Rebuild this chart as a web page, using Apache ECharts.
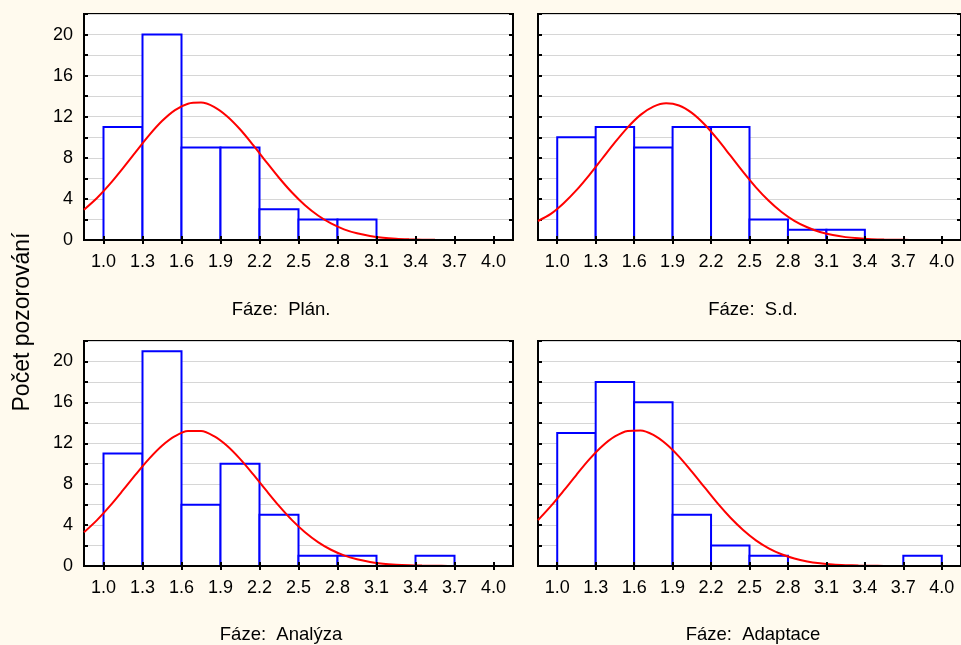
<!DOCTYPE html>
<html>
<head>
<meta charset="utf-8">
<script src="https://cdn.jsdelivr.net/npm/echarts@6/dist/echarts.min.js"></script>
<style>
html, body { margin: 0; padding: 0; background: #fffaee; }
#chart { width: 961px; height: 645px; }
</style>
</head>
<body>
<div id="chart"></div>
<script>
// histogram bins (class limits) and tick marks on x
var binEdges = [1.0, 1.3, 1.6, 1.9, 2.2, 2.5, 2.8, 3.1, 3.4, 3.7, 4.0];
var xTicks = [1.0, 1.3, 1.6, 1.9, 2.2, 2.5, 2.8, 3.1, 3.4, 3.7, 4.0];
var panelTitles = ["Fáze:  Plán.", "Fáze:  S.d.", "Fáze:  Analýza", "Fáze:  Adaptace"];
var yTitle = "Počet pozorování";

// observed counts per bin
var countsPlan = [11, 20, 9, 9, 3, 2, 2, 0, 0, 0];
var countsSd = [10, 11, 9, 11, 11, 2, 1, 1, 0, 0];
var countsAnalyza = [11, 21, 6, 10, 5, 1, 1, 0, 1, 0];
var countsAdaptace = [13, 18, 16, 5, 2, 1, 0, 0, 0, 1];

// expected normal curve
var curveX = [0.85, 0.95, 1.05, 1.15, 1.25, 1.35, 1.45, 1.55, 1.65, 1.75, 1.85, 1.95, 2.05, 2.15, 2.25, 2.35, 2.45,
    2.55, 2.65, 2.75, 2.85, 2.95, 3.05, 3.15, 3.25, 3.35, 3.45, 3.55, 3.65, 3.75, 3.85, 3.95, 4.05, 4.15];
var curvePlan = [2.95, 4.09, 5.46, 7.0, 8.61, 10.19, 11.58, 12.65, 13.27, 13.38, 12.96, 12.05, 10.78, 9.26, 7.64, 6.06, 4.62,
    3.38, 2.38, 1.61, 1.04, 0.65, 0.39, 0.22, 0.12, 0.066, 0.034, 0.016, 0.007, 0, 0, 0, 0, 0];
var curveSd = [1.85, 2.54, 3.58, 4.85, 6.32, 7.91, 9.5, 10.97, 12.18, 12.98, 13.3, 13.09, 12.37, 11.24, 9.81, 8.23, 6.63,
    5.13, 3.82, 2.73, 1.87, 1.24, 0.78, 0.48, 0.28, 0.16, 0.085, 0.04, 0.02, 0.01, 0, 0, 0, 0];
var curveAnalyza = [3.3, 4.49, 5.88, 7.41, 8.98, 10.47, 11.75, 12.69, 13.19, 13.19, 12.69, 11.75, 10.47, 8.98, 7.41, 5.88, 4.49,
    3.3, 2.34, 1.59, 1.04, 0.66, 0.4, 0.23, 0.13, 0.07, 0.037, 0.018, 0.008, 0, 0, 0, 0, 0];
var curveAdaptace = [4.48, 5.85, 7.36, 8.92, 10.42, 11.71, 12.67, 13.21, 13.26, 12.82, 11.93, 10.7, 9.23, 7.68, 6.14, 4.74, 3.52,
    2.51, 1.73, 1.15, 0.73, 0.45, 0.27, 0.15, 0.084, 0.044, 0.022, 0.01, 0, 0, 0, 0, 0, 0];

var allCounts = [countsPlan, countsSd, countsAnalyza, countsAdaptace];
var allCurves = [curvePlan, curveSd, curveAnalyza, curveAdaptace];

var FONT = "Liberation Sans, Arial, sans-serif";
var panels = [
    { left: 84, top: 14, width: 429, height: 226, ylab: true, tx: 281, ty: 310 },
    { left: 538, top: 14, width: 430, height: 226, ylab: false, tx: 753, ty: 310 },
    { left: 84, top: 341, width: 429, height: 225, ylab: true, tx: 281, ty: 635 },
    { left: 538, top: 341, width: 430, height: 225, ylab: false, tx: 753, ty: 635 }
];

var grids = [], xAxes = [], yAxes = [], series = [], graphics = [];

panels.forEach(function (p, i) {
    grids.push({
        left: p.left, top: p.top, width: p.width, height: p.height,
        show: true, backgroundColor: "#ffffff", borderColor: "#000", borderWidth: 2
    });
    // bottom x axis with labels
    xAxes.push({
        type: "value", gridIndex: i, position: "bottom", min: 0.85, max: 4.15, z: 5,
        axisLine: { show: true, onZero: false, lineStyle: { color: "#000", width: 2 } },
        axisTick: { show: true, inside: true, length: 4, customValues: xTicks, lineStyle: { color: "#000", width: 2 } },
        axisLabel: { customValues: xTicks, margin: 13, color: "#000", fontSize: 18, fontFamily: FONT,
            formatter: function (v) { return v.toFixed(1); } },
        splitLine: { show: false }
    });
    // top x axis, ticks only
    xAxes.push({
        type: "value", gridIndex: i, position: "top", min: 0.85, max: 4.15, z: 5,
        axisLine: { show: false },
        axisTick: { show: true, inside: true, length: 4, customValues: xTicks, lineStyle: { color: "#000", width: 2 } },
        axisLabel: { show: false },
        splitLine: { show: false }
    });
    yAxes.push({
        type: "value", gridIndex: i, position: "left", min: 0, max: 22, interval: 2,
        axisLine: { show: false },
        axisTick: { show: true, inside: true, length: 4, lineStyle: { color: "#000", width: 2 } },
        axisLabel: { show: p.ylab, margin: 11, color: "#000", fontSize: 18, fontFamily: FONT,
            formatter: function (v) { return v % 4 === 0 ? String(v) : ""; } },
        splitLine: { show: true, lineStyle: { color: "#d6d6d6", width: 1 } }
    });
    yAxes.push({
        type: "value", gridIndex: i, position: "right", min: 0, max: 22, interval: 2,
        axisLine: { show: false },
        axisTick: { show: true, inside: true, length: 4, lineStyle: { color: "#000", width: 2 } },
        axisLabel: { show: false },
        splitLine: { show: false }
    });

    var bars = [];
    allCounts[i].forEach(function (c, k) {
        if (c > 0) bars.push([binEdges[k], binEdges[k + 1], c]);
    });
    series.push({
        type: "custom", xAxisIndex: 2 * i, yAxisIndex: 2 * i, z: 2,
        data: bars,
        encode: { x: [0, 1], y: 2 },
        renderItem: function (params, api) {
            var p0 = api.coord([api.value(0), 0]);
            var p1 = api.coord([api.value(1), api.value(2)]);
            return {
                type: "rect",
                shape: { x: p0[0], y: p1[1], width: p1[0] - p0[0], height: p0[1] - p1[1] },
                style: { fill: "#ffffff", stroke: "#0000ff", lineWidth: 2 }
            };
        }
    });
    series.push({
        type: "line", xAxisIndex: 2 * i, yAxisIndex: 2 * i, z: 4,
        data: curveX.map(function (x, k) { return [x, allCurves[i][k]]; }),
        smooth: 0.3, showSymbol: false, silent: true,
        lineStyle: { color: "#ff0000", width: 2 }
    });
    graphics.push({
        type: "text", x: p.tx, y: p.ty,
        style: { text: panelTitles[i], font: "18.5px " + FONT, fill: "#000", align: "center", verticalAlign: "middle" }
    });
});

graphics.push({
    type: "text", x: 23, y: 322, rotation: Math.PI / 2,
    style: { text: yTitle, font: "23px " + FONT, fill: "#000", align: "center", verticalAlign: "middle" }
});

var myChart = echarts.init(document.getElementById("chart"));
myChart.setOption({
    backgroundColor: "#fffaee",
    animation: false,
    grid: grids,
    xAxis: xAxes,
    yAxis: yAxes,
    series: series,
    graphic: graphics
});
</script>
</body>
</html>
